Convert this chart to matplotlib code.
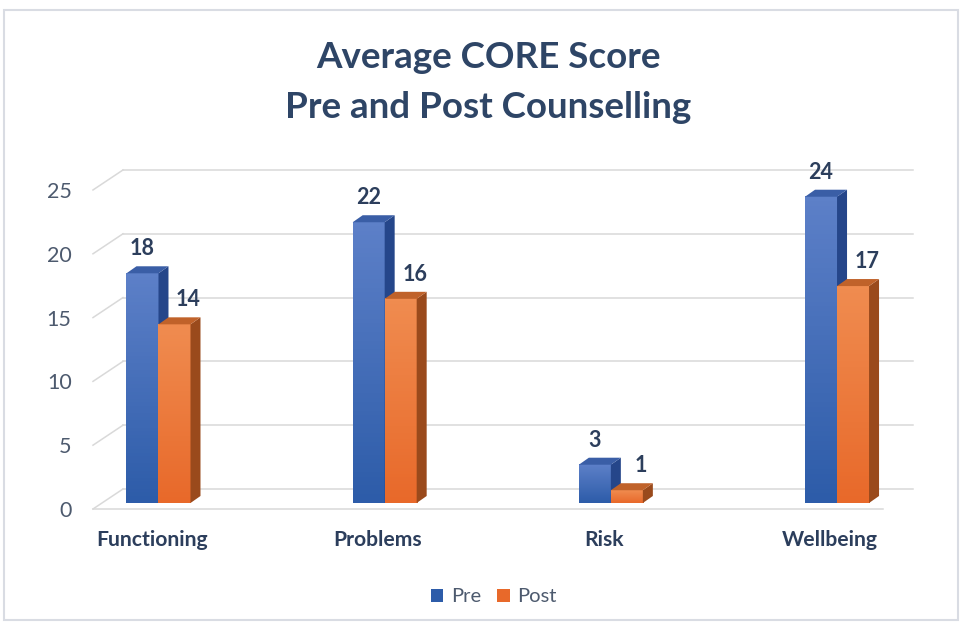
import numpy as np
import matplotlib
matplotlib.use("Agg")
import matplotlib.pyplot as plt
from matplotlib.patches import Polygon, Rectangle
from matplotlib.colors import to_rgb

categories = ["Functioning", "Problems", "Risk", "Wellbeing"]
pre = [18, 22, 3, 24]
post = [14, 16, 1, 17]
series_names = ["Pre", "Post"]
yticks = [0, 5, 10, 15, 20, 25]

plt.rcParams['font.family'] = ['Lato', 'DejaVu Sans']

fig = plt.figure(figsize=(9.62, 6.26), dpi=100)
ax = fig.add_axes([80 / 962, 0.1767, 850 / 962, 0.5708])

# pseudo 3d geometry (in data units)
bw = 0.1415          # bar front width
bdx, bdy = 0.0442, 0.55   # bar depth offset
base = 0.47          # bars sit a bit behind the front edge
wdx, wdy = 0.1326, 1.567  # back wall offset
x_front_left = -0.2896
x_back_left = x_front_left + wdx
x_right = 3.3355
x_floor_right = x_right - wdx

grid_c = "#d9d9d9"
for v in yticks:
    ax.plot([x_back_left, x_right], [v + wdy, v + wdy], color=grid_c, lw=1.1, zorder=1)
    ax.plot([x_front_left, x_back_left], [v, v + wdy], color=grid_c, lw=1.1, zorder=1)
ax.plot([x_front_left, x_floor_right], [0, 0], color=grid_c, lw=1.1, zorder=1)

colors = {
    "Pre": {"top": "#5d80c8", "bottom": "#2d5ca9", "side": "#25468a", "cap": "#3a5ea6"},
    "Post": {"top": "#f08c50", "bottom": "#e8692a", "side": "#9a4a1c", "cap": "#c0622a"},
}

def draw_bar(x0, val, c):
    x1 = x0 + bw
    top = val + base
    grad = np.linspace(0, 1, 64)[:, None]
    c0, c1 = np.array(to_rgb(c["bottom"])), np.array(to_rgb(c["top"]))
    img = (c0[None, None, :] * (1 - grad[..., None]) + c1[None, None, :] * grad[..., None])
    ax.imshow(img, extent=(x0, x1, base, top), origin="lower", aspect="auto", zorder=3)
    side = Polygon([(x1, base), (x1 + bdx, base + bdy), (x1 + bdx, top + bdy), (x1, top)],
                   closed=True, facecolor=c["side"], edgecolor="none", zorder=3)
    cap = Polygon([(x0, top), (x1, top), (x1 + bdx, top + bdy), (x0 + bdx, top + bdy)],
                  closed=True, facecolor=c["cap"], edgecolor="none", zorder=3)
    ax.add_patch(side)
    ax.add_patch(cap)

lab_c = "#2c3e5c"
for i in range(len(categories)):
    draw_bar(i - bw, pre[i], colors["Pre"])
    draw_bar(i, post[i], colors["Post"])
    ax.text(i - bw / 2, pre[i] + 2.4, str(pre[i]), ha="center", va="center",
            fontsize=15.5, fontweight="bold", color=lab_c, zorder=5)
    ax.text(i + bw / 2 + 0.062, post[i] + 2.4, str(post[i]), ha="center", va="center",
            fontsize=15.5, fontweight="bold", color=lab_c, zorder=5)
    ax.text(i - 0.03, -2.43, categories[i], ha="center", va="center",
            fontsize=15.2, fontweight="bold", color=lab_c)

ax.set_xlim(-0.347, 3.411)
ax.set_ylim(-0.5, 27.5)
ax.set_xticks([])
ax.set_yticks(yticks)
ax.tick_params(axis="y", length=0, pad=6, labelsize=15.5, labelcolor="#4d5a6e")
for s in ax.spines.values():
    s.set_visible(False)
ax.patch.set_alpha(0)

fig.text(488 / 962, 1 - 58 / 626, "Average CORE Score", ha="center", va="center",
         fontsize=26.5, fontweight="bold", color="#2e4566")
fig.text(488 / 962, 1 - 107 / 626, "Pre and Post Counselling", ha="center", va="center",
         fontsize=26.5, fontweight="bold", color="#2e4566")

handles = [Rectangle((0, 0), 1, 1, facecolor=colors[n]["bottom"]) for n in series_names]
fig.legend(handles, series_names, loc="center", bbox_to_anchor=(494 / 962, 1 - 597 / 626),
           ncol=2, frameon=False, fontsize=14.5, handlelength=0.6, handleheight=0.6,
           handletextpad=0.4, columnspacing=0.8, labelcolor="#4d5a6e")

fig.patches.append(Rectangle((4 / 962, 6 / 626), 954 / 962, 610 / 626, transform=fig.transFigure,
                             facecolor="none", edgecolor="#d9dce3", lw=1.5))

fig.savefig("out.png", dpi=100)
